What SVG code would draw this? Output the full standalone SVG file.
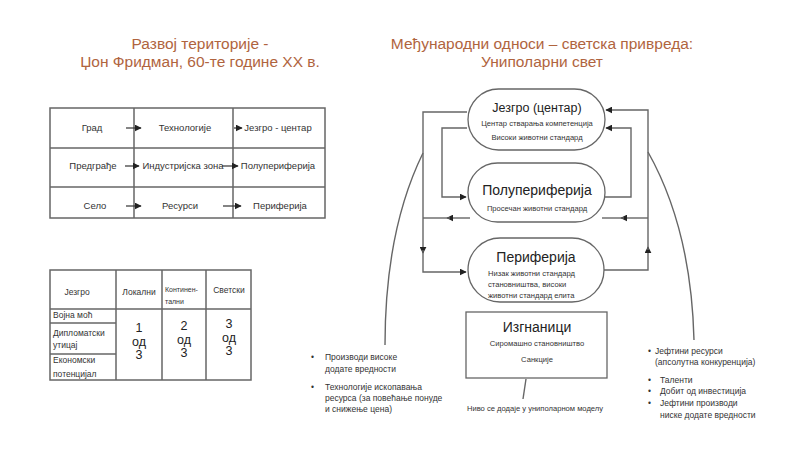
<svg xmlns="http://www.w3.org/2000/svg" width="800" height="450" viewBox="0 0 800 450">
<defs>
<marker id="ah" viewBox="0 0 10 10" refX="9" refY="5" markerWidth="7" markerHeight="7" markerUnits="userSpaceOnUse" orient="auto"><path d="M0,0 L10,5 L0,10 z" fill="#222"/></marker>
</defs>
<style>
text{font-family:"Liberation Sans",Arial,sans-serif;fill:#333}
.title{font-size:15.5px;fill:#b0643e;text-anchor:middle}
.t1{font-size:9.5px;text-anchor:middle}
.t2{font-size:8.5px}
.num{font-size:12.5px;text-anchor:middle;fill:#222}
.grid{fill:none;stroke:#666;stroke-width:1.5}
.con{fill:none;stroke:#666;stroke-width:1.4}
.arr{fill:none;stroke:#333;stroke-width:1.2}
.shape{fill:#fff;stroke:#666;stroke-width:1.3}
.big{font-size:14px;text-anchor:middle;fill:#222}
.sm{font-size:7.6px;text-anchor:middle}
.sml{font-size:7.6px;text-anchor:start}
.bl{font-size:8.5px}
</style>
<rect width="800" height="450" fill="#fff"/>

<g id="title-left">
<text class="title" x="200" y="49">Развој територије -</text>
<text class="title" x="200" y="67">Џон Фридман, 60-те године XX в.</text>
</g>
<g id="title-right">
<text class="title" x="542" y="49">Међународни односи – светска привреда:</text>
<text class="title" x="542" y="67">Униполарни свет</text>
</g>

<g id="table1">
<rect class="grid" x="50" y="108" width="275" height="110"/>
<line class="grid" x1="134" y1="108" x2="134" y2="218"/>
<line class="grid" x1="233" y1="108" x2="233" y2="218"/>
<line class="grid" x1="50" y1="148" x2="325" y2="148"/>
<line class="grid" x1="50" y1="187" x2="325" y2="187"/>
<text class="t1" x="92" y="131">Град</text>
<text class="t1" x="185" y="131">Технологије</text>
<text class="t1" x="278" y="131">Језгро - центар</text>
<text class="t1" x="93" y="169">Предграђе</text>
<text class="t1" x="183" y="169">Индустријска зона</text>
<text class="t1" x="278" y="169">Полупериферија</text>
<text class="t1" x="95" y="209">Село</text>
<text class="t1" x="180" y="209">Ресурси</text>
<text class="t1" x="280" y="209">Периферија</text>
<path class="arr" d="M126,128 H141" marker-end="url(#ah)"/>
<path class="arr" d="M234,128 H242" marker-end="url(#ah)"/>
<path class="arr" d="M125,166 H139" marker-end="url(#ah)"/>
<path class="arr" d="M222,166 H238" marker-end="url(#ah)"/>
<path class="arr" d="M126,206 H141" marker-end="url(#ah)"/>
<path class="arr" d="M223,206 H241" marker-end="url(#ah)"/>
</g>

<g id="table2">
<rect class="grid" x="50" y="270" width="201" height="110"/>
<line class="grid" x1="116" y1="270" x2="116" y2="380"/>
<line class="grid" x1="162" y1="270" x2="162" y2="380"/>
<line class="grid" x1="206" y1="270" x2="206" y2="380"/>
<line class="grid" x1="50" y1="309" x2="251" y2="309"/>
<line class="grid" x1="50" y1="323" x2="116" y2="323"/>
<line class="grid" x1="50" y1="354" x2="116" y2="354"/>
<text class="t2" x="77" y="295" text-anchor="middle">Језгро</text>
<text class="t2" x="139" y="295" text-anchor="middle">Локални</text>
<text x="165" y="292" style="font-size:7px">Континен-</text>
<text x="165" y="304" style="font-size:7px">тални</text>
<text class="t2" x="229" y="293" text-anchor="middle">Светски</text>
<text class="t2" x="53" y="318">Војна моћ</text>
<text class="t2" x="53" y="336">Дипломатски</text>
<text class="t2" x="53" y="348">утицај</text>
<text class="t2" x="53" y="363">Економски</text>
<text class="t2" x="53" y="377">потенцијал</text>
<text class="num" x="139" y="332">1</text>
<text class="num" x="139" y="346">од</text>
<text class="num" x="139" y="359">3</text>
<text class="num" x="184" y="330">2</text>
<text class="num" x="184" y="344">од</text>
<text class="num" x="184" y="357">3</text>
<text class="num" x="229" y="328">3</text>
<text class="num" x="229" y="342">од</text>
<text class="num" x="229" y="355">3</text>
</g>

<g id="connectors">
<path class="con" d="M467,112 H423 V253" marker-end="url(#ah)"/>
<path class="con" d="M423,250 V272 H466" marker-end="url(#ah)"/>
<path class="con" d="M470,218 H447" marker-end="url(#ah)"/>
<path class="con" d="M450,218 H423"/>
<path class="con" d="M467,128 H442 V197 H466" marker-end="url(#ah)"/>
<path class="con" d="M603,270 H648 V247" marker-end="url(#ah)"/>
<path class="con" d="M648,250 V110 H606" marker-end="url(#ah)"/>
<path class="con" d="M648,218 H621" marker-end="url(#ah)"/>
<path class="con" d="M624,218 H602"/>
<path class="con" d="M605,197 H631 V128 H606" marker-end="url(#ah)"/>
<path class="con" d="M423,153 C400,200 385,260 385,345"/>
<path class="con" d="M648,152 C675,200 692,260 694,340"/>
<path class="con" d="M526,379 L523,399"/>
</g>

<g id="jezgro">
<rect class="shape" x="468" y="89" width="137" height="61" rx="30.5"/>
<text class="big" x="537" y="112" style="font-size:12.5px">Језгро (центар)</text>
<text class="sm" x="537" y="126">Центар стварања компетенција</text>
<text class="sm" x="537" y="140">Високи животни стандард</text>
</g>
<g id="poluperiferija">
<rect class="shape" x="468" y="163" width="137" height="59" rx="29.5"/>
<text class="big" x="537" y="195">Полупериферија</text>
<text class="sm" x="537" y="211">Просечан животни стандард</text>
</g>
<g id="periferija">
<rect class="shape" x="468" y="238" width="136" height="64" rx="32"/>
<text class="big" x="536" y="262">Периферија</text>
<text class="sml" x="488" y="276">Низак животни стандард</text>
<text class="sml" x="488" y="287">становништва, високи</text>
<text class="sml" x="488" y="298">животни стандард елита</text>
</g>
<g id="izgnanici">
<rect class="shape" x="466" y="312" width="141" height="66"/>
<text class="big" x="537" y="332">Изгнаници</text>
<text class="sm" x="537" y="346">Сиромашно становништво</text>
<text class="sm" x="537" y="362">Санкције</text>
</g>
<g id="note-bottom">
<text class="sm" x="535" y="411">Ниво се додаје у униполарном моделу</text>
</g>

<g id="bullets-left">
<text class="bl" x="311" y="360">•</text>
<text class="bl" x="325" y="360">Производи високе</text>
<text class="bl" x="325" y="372">додате вредности</text>
<text class="bl" x="311" y="390">•</text>
<text class="bl" x="325" y="390">Технологије ископавања</text>
<text class="bl" x="325" y="401">ресурса (за повећање понуде</text>
<text class="bl" x="325" y="412">и снижење цена)</text>
</g>
<g id="bullets-right">
<text class="bl" x="648" y="354">•</text>
<text class="bl" x="655" y="354">Јефтини ресурси</text>
<text class="bl" x="655" y="365">(апсолутна конкуренција)</text>
<text class="bl" x="648" y="383">•</text>
<text class="bl" x="660" y="383">Таленти</text>
<text class="bl" x="648" y="394">•</text>
<text class="bl" x="660" y="394">Добит од инвестиција</text>
<text class="bl" x="648" y="406">•</text>
<text class="bl" x="660" y="406">Јефтини производи</text>
<text class="bl" x="660" y="418">ниске додате вредности</text>
</g>
</svg>
